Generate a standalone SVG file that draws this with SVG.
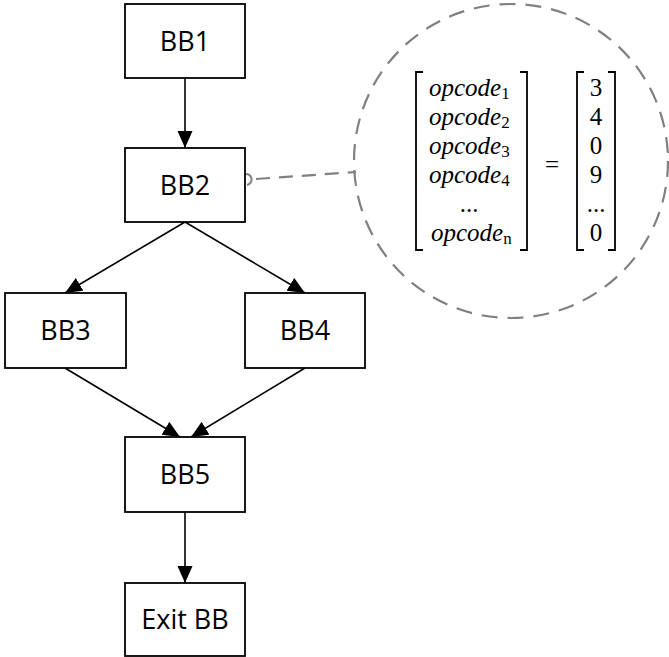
<svg xmlns="http://www.w3.org/2000/svg" width="669" height="657" viewBox="0 0 669 657">
<style>
.box{fill:#fff;stroke:#000;stroke-width:1.8}
.lbl{font-family:"Open Sans","Liberation Sans",sans-serif;font-size:27px;text-anchor:middle;fill:#000}
.edge{stroke:#000;stroke-width:1.6;fill:none}
.mi{font-family:"Liberation Serif",serif;font-style:italic;font-size:25px;fill:#000}
.sub{font-family:"Liberation Serif",serif;font-style:normal;font-size:17px}
.num{font-family:"Liberation Serif",serif;font-size:25px;fill:#000;text-anchor:middle}
.br{stroke:#000;stroke-width:1.8;fill:none}
</style>
<defs>
<marker id="ah" markerUnits="userSpaceOnUse" markerWidth="18" markerHeight="16" refX="17" refY="7.5" orient="auto">
<path d="M0,0 L17,7.5 L0,15 Z" fill="#000"/>
</marker>
</defs>
<rect width="669" height="657" fill="#fff"/>
<g id="connectors">
<line class="edge" x1="185" y1="78" x2="185" y2="148" marker-end="url(#ah)"/>
<line class="edge" x1="185" y1="222" x2="65" y2="293" marker-end="url(#ah)"/>
<line class="edge" x1="185" y1="222" x2="305" y2="293" marker-end="url(#ah)"/>
<line class="edge" x1="65" y1="368" x2="180" y2="437" marker-end="url(#ah)"/>
<line class="edge" x1="305" y1="368" x2="191" y2="437" marker-end="url(#ah)"/>
<line class="edge" x1="185" y1="512" x2="185" y2="583" marker-end="url(#ah)"/>
<path d="M245,174 A5.5,5.5 0 1 1 247,185" fill="none" stroke="#808080" stroke-width="2"/>
<line x1="256" y1="179" x2="356" y2="172" stroke="#808080" stroke-width="2.2" stroke-dasharray="14,9"/>
</g>
<g id="BB1"><rect class="box" x="125" y="4" width="120" height="74"/><text class="lbl" x="185" y="51">BB1</text></g>
<g id="BB2"><rect class="box" x="125" y="148" width="120" height="74"/><text class="lbl" x="185" y="195">BB2</text></g>
<g id="BB3"><rect class="box" x="5" y="293" width="121" height="75"/><text class="lbl" x="65.5" y="340">BB3</text></g>
<g id="BB4"><rect class="box" x="245" y="293" width="120" height="75"/><text class="lbl" x="305" y="340">BB4</text></g>
<g id="BB5"><rect class="box" x="125" y="437" width="120" height="75"/><text class="lbl" x="185" y="484">BB5</text></g>
<g id="ExitBB"><rect class="box" x="125" y="583" width="120" height="73"/><text class="lbl" x="185" y="629">Exit BB</text></g>
<g id="zoom">
<circle cx="511" cy="161" r="157" fill="none" stroke="#808080" stroke-width="2.2" stroke-dasharray="16,10"/>
<path class="br" d="M423,72 H416 V250 H423"/>
<path class="br" d="M520,72 H527 V250 H520"/>
<path class="br" d="M584,72 H577 V250 H584"/>
<path class="br" d="M608,72 H615 V250 H608"/>
<text class="mi" x="429" y="96">opcode<tspan class="sub" dy="3">1</tspan></text>
<text class="mi" x="429" y="125">opcode<tspan class="sub" dy="3">2</tspan></text>
<text class="mi" x="429" y="154">opcode<tspan class="sub" dy="3">3</tspan></text>
<text class="mi" x="429" y="183">opcode<tspan class="sub" dy="3">4</tspan></text>
<text class="num" x="469" y="212">...</text>
<text class="mi" x="431" y="241">opcode<tspan class="sub" dy="3" font-style="italic">n</tspan></text>
<text class="num" x="552" y="173" font-size="32">=</text>
<text class="num" x="596" y="96">3</text>
<text class="num" x="596" y="125">4</text>
<text class="num" x="596" y="154">0</text>
<text class="num" x="596" y="183">9</text>
<text class="num" x="596" y="212">...</text>
<text class="num" x="596" y="241">0</text>
</g>
</svg>
